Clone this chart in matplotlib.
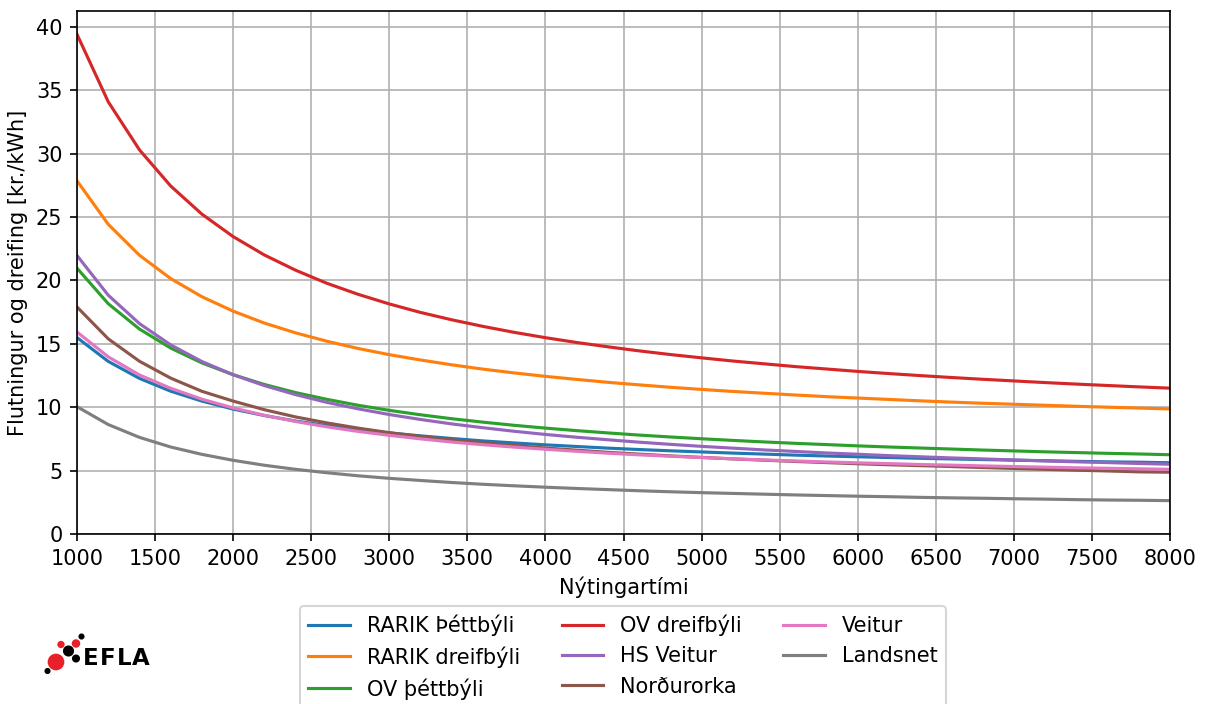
import matplotlib
matplotlib.use("Agg")
import matplotlib.pyplot as plt
from matplotlib.patches import Circle

hours = list(range(1000, 8001, 200))

rarik_thettbyli = [15.49, 13.61, 12.27, 11.26, 10.48, 9.85, 9.34, 8.91, 8.55, 8.24, 7.97, 7.74,
                   7.53, 7.34, 7.18, 7.03, 6.90, 6.77, 6.66, 6.56, 6.47, 6.38, 6.30, 6.22,
                   6.15, 6.09, 6.03, 5.97, 5.92, 5.87, 5.82, 5.78, 5.73, 5.69, 5.66, 5.62]
rarik_dreifbyli = [27.85, 24.42, 21.98, 20.14, 18.71, 17.57, 16.63, 15.86, 15.20, 14.63, 14.14, 13.72,
                   13.34, 13.00, 12.70, 12.43, 12.19, 11.96, 11.76, 11.57, 11.40, 11.24, 11.10, 10.96,
                   10.83, 10.72, 10.61, 10.50, 10.40, 10.31, 10.23, 10.15, 10.07, 10.00, 9.93, 9.86]
ov_thettbyli = [20.96, 18.16, 16.16, 14.66, 13.49, 12.56, 11.79, 11.15, 10.62, 10.15, 9.75, 9.40,
                9.09, 8.82, 8.57, 8.35, 8.15, 7.97, 7.80, 7.65, 7.51, 7.38, 7.26, 7.15,
                7.05, 6.95, 6.86, 6.78, 6.70, 6.62, 6.55, 6.48, 6.42, 6.36, 6.31, 6.25]
ov_dreifbyli = [39.40, 34.08, 30.29, 27.44, 25.22, 23.45, 22.00, 20.80, 19.77, 18.90, 18.14, 17.47,
                16.89, 16.37, 15.90, 15.48, 15.10, 14.76, 14.44, 14.15, 13.89, 13.64, 13.42, 13.20,
                13.01, 12.82, 12.65, 12.49, 12.34, 12.20, 12.07, 11.94, 11.82, 11.71, 11.60, 11.50]
hs_veitur = [21.96, 18.83, 16.59, 14.91, 13.60, 12.56, 11.70, 10.99, 10.38, 9.87, 9.42, 9.03,
             8.68, 8.38, 8.10, 7.85, 7.63, 7.43, 7.24, 7.07, 6.91, 6.77, 6.63, 6.51,
             6.39, 6.29, 6.18, 6.09, 6.00, 5.92, 5.84, 5.76, 5.69, 5.63, 5.56, 5.50]
nordurorka = [17.90, 15.39, 13.62, 12.29, 11.25, 10.48, 9.80, 9.23, 8.76, 8.35, 7.99, 7.69,
              7.43, 7.20, 6.98, 6.78, 6.61, 6.44, 6.30, 6.16, 6.04, 5.92, 5.82, 5.72,
              5.63, 5.54, 5.46, 5.39, 5.32, 5.24, 5.17, 5.10, 5.03, 4.97, 4.90, 4.87]
veitur = [15.93, 13.97, 12.54, 11.49, 10.63, 9.94, 9.36, 8.87, 8.45, 8.09, 7.78, 7.50,
          7.25, 7.04, 6.85, 6.68, 6.52, 6.37, 6.24, 6.13, 6.03, 5.93, 5.84, 5.76,
          5.68, 5.61, 5.55, 5.48, 5.43, 5.37, 5.32, 5.27, 5.22, 5.18, 5.14, 5.10]
landsnet = [10.04, 8.63, 7.62, 6.86, 6.28, 5.81, 5.42, 5.10, 4.83, 4.59, 4.39, 4.22,
            4.06, 3.92, 3.80, 3.69, 3.59, 3.50, 3.41, 3.33, 3.26, 3.20, 3.14, 3.08,
            3.03, 2.98, 2.94, 2.89, 2.85, 2.82, 2.78, 2.75, 2.71, 2.68, 2.66, 2.63]

series = [
    ("RARIK Þéttbýli", rarik_thettbyli),
    ("RARIK dreifbýli", rarik_dreifbyli),
    ("OV þéttbýli", ov_thettbyli),
    ("OV dreifbýli", ov_dreifbyli),
    ("HS Veitur", hs_veitur),
    ("Norðurorka", nordurorka),
    ("Veitur", veitur),
    ("Landsnet", landsnet),
]

DPI = 150
fig = plt.figure(figsize=(1205 / DPI, 704 / DPI), dpi=DPI)
W, H = 1205, 704
ax = fig.add_axes([77 / W, 1 - 534 / H, (1170 - 77) / W, (534 - 11) / H])

for name, vals in series:
    ax.plot(hours, vals, label=name, linewidth=1.5)

ax.set_xlim(1000, 8000)
ax.set_ylim(bottom=0)
ax.set_xticks(range(1000, 8001, 500))
ax.grid(True)
ax.set_xlabel("Nýtingartími")
ax.set_ylabel("Flutningur og dreifing [kr./kWh]")

fig.legend(loc="upper center", bbox_to_anchor=(623 / W, 1 - 606 / H), ncol=3,
           borderaxespad=0)

# EFLA logo
def dot(px, py, r, color):
    fig.add_artist(Circle((px / DPI, (H - py) / DPI), r / DPI, color=color,
                          transform=fig.dpi_scale_trans, zorder=5))

red = "#e8202a"
dot(56, 662, 7.3, red)
dot(61, 644.5, 2.6, red)
dot(76, 643.5, 3.2, red)
dot(68.5, 651, 4.5, "black")
dot(76, 658.5, 3.0, "black")
dot(81.5, 636.5, 2.0, "black")
dot(47.5, 671, 2.0, "black")
for letter, lx in zip("EFLA", [83, 100, 117, 132]):
    fig.text(lx / W, 1 - 665 / H, letter, fontsize=11, fontweight="bold",
             ha="left", va="baseline", color="black")

fig.savefig("out.png", dpi=DPI)
